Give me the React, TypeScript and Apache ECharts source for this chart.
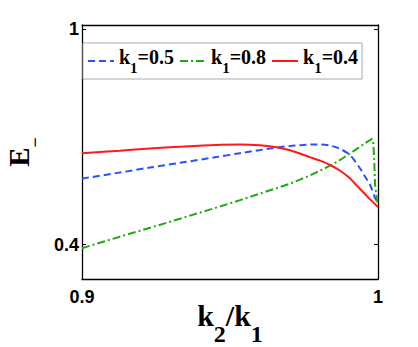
import React, { useEffect, useRef } from "react";
import * as echarts from "echarts";

// k1 = 0.5 (blue dashed)
const blueX = [0.9, 0.9128, 0.923, 0.9331, 0.9453, 0.9534, 0.9652, 0.9703, 0.9736, 0.977, 0.9804, 0.9838, 0.9872, 0.9905, 0.9939, 0.9956, 0.9973, 0.999, 1.0];
const blueY = [0.584, 0.601, 0.615, 0.628, 0.644, 0.655, 0.67, 0.675, 0.677, 0.679, 0.679, 0.676, 0.667, 0.65, 0.613, 0.59, 0.567, 0.53, 0.515];
// k1 = 0.8 (green dash-dot)
const greenX = [0.9, 0.9128, 0.923, 0.9331, 0.9453, 0.9534, 0.9652, 0.9703, 0.9736, 0.977, 0.9804, 0.9838, 0.9872, 0.9905, 0.9939, 0.9962, 0.998, 0.9984, 0.9987, 0.999, 0.9996, 1.0];
const greenY = [0.39, 0.422, 0.447, 0.472, 0.503, 0.524, 0.556, 0.57, 0.581, 0.593, 0.606, 0.62, 0.636, 0.654, 0.673, 0.686, 0.695, 0.687, 0.64, 0.567, 0.53, 0.51];
// k1 = 0.4 (red solid)
const redX = [0.9, 0.9128, 0.923, 0.9331, 0.9453, 0.9534, 0.96, 0.9652, 0.9703, 0.9736, 0.977, 0.9804, 0.9838, 0.9872, 0.9905, 0.9928, 0.9956, 0.9973, 1.0];
const redY = [0.655, 0.662, 0.668, 0.673, 0.678, 0.679, 0.677, 0.672, 0.663, 0.654, 0.644, 0.634, 0.622, 0.606, 0.585, 0.565, 0.541, 0.526, 0.505];

const legendValues = ["0.5", "0.8", "0.4"];
const seriesNames = ["k1=0.5", "k1=0.8", "k1=0.4"];
const xTicks = [0.9, 1];
const yTicks = [0.4, 1];

const serif = "'Liberation Serif', 'Times New Roman', serif";
const sans = "'Liberation Sans', Arial, sans-serif";

export default function App() {
  const ref = useRef<HTMLDivElement>(null);
  useEffect(() => {
    document.body.style.margin = "0";
    const chart = echarts.init(ref.current!, null, { renderer: "svg" });
    const pair = (xs: number[], ys: number[]) => xs.map((x, i) => [x, ys[i]]);
    const axisLine = { show: true, lineStyle: { color: "#000", width: 1.3 } };
    const tickStyle = (vals: number[]) => ({ show: true, inside: true, length: 4, customValues: vals, lineStyle: { color: "#000", width: 1 } });
    const labelStyle = { fontFamily: sans, fontWeight: "bold", fontSize: 18, color: "#000" };
    chart.setOption({
      animation: false,
      backgroundColor: "#fff",
      grid: { left: 82, right: 40, top: 25, bottom: 68, containLabel: false, outerBoundsMode: "none" },
      legend: {
        data: seriesNames,
        left: 83,
        top: 43,
        orient: "horizontal",
        itemWidth: 26,
        itemHeight: 12,
        itemGap: 5,
        padding: [4, 4],
        borderColor: "#aaa",
        borderWidth: 1,
        backgroundColor: "#fff",
        itemStyle: { opacity: 0 },
        formatter: (name: string) => {
          const i = seriesNames.indexOf(name);
          return `{k|k}{s|1}{k|=${legendValues[i]}}`;
        },
        textStyle: {
          rich: {
            k: { fontFamily: serif, fontWeight: "bold", fontSize: 20, color: "#000", verticalAlign: "top" },
            s: { fontFamily: serif, fontWeight: "bold", fontSize: 15, color: "#000", verticalAlign: "top", padding: [13, 0, 0, 0] },
          },
        },
      },
      xAxis: [
        {
          type: "value", min: 0.9, max: 1, position: "bottom",
          axisLine, axisTick: tickStyle(xTicks),
          axisLabel: { ...labelStyle, customValues: xTicks, margin: 9 },
          splitLine: { show: false },
          name: "{k|k}{s|2}{k|/k}{s|1}",
          nameLocation: "middle",
          nameGap: 21,
          nameMoveOverlap: false,
          nameTextStyle: {
            rich: {
              k: { fontFamily: serif, fontWeight: "bold", fontSize: 30, color: "#000", verticalAlign: "top" },
              s: { fontFamily: serif, fontWeight: "bold", fontSize: 24, color: "#000", verticalAlign: "top", padding: [22, 0, 0, 0] },
            },
          },
        },
        {
          type: "value", min: 0.9, max: 1, position: "top",
          axisLine, axisTick: tickStyle(xTicks), axisLabel: { show: false }, splitLine: { show: false },
        },
      ],
      yAxis: [
        {
          type: "value", min: 0.304, max: 1.0125, position: "left",
          axisLine, axisTick: tickStyle(yTicks),
          axisLabel: { ...labelStyle, customValues: yTicks, margin: 3 },
          splitLine: { show: false },
          name: "{e|E}{s|−}",
          nameLocation: "middle",
          nameRotate: 90,
          nameGap: 38,
          nameMoveOverlap: false,
          nameTextStyle: {
            rich: {
              e: { fontFamily: serif, fontWeight: "bold", fontSize: 29, color: "#000", verticalAlign: "top" },
              s: { fontFamily: serif, fontWeight: "bold", fontSize: 18, color: "#000", verticalAlign: "top", padding: [22, 0, 0, 0] },
            },
          },
        },
        {
          type: "value", min: 0.304, max: 1.0125, position: "right",
          axisLine, axisTick: tickStyle(yTicks), axisLabel: { show: false }, splitLine: { show: false },
        },
      ],
      series: [
        {
          name: seriesNames[0], type: "line", data: pair(blueX, blueY), symbol: "none", smooth: 0.3,
          lineStyle: { color: "#2d50ff", width: 2, type: [7, 4] }, itemStyle: { color: "#2d50ff" },
        },
        {
          name: seriesNames[1], type: "line", data: pair(greenX, greenY), symbol: "none", smooth: false,
          lineStyle: { color: "#22aa11", width: 2, type: [8, 3, 2, 3] }, itemStyle: { color: "#22aa11" },
        },
        {
          name: seriesNames[2], type: "line", data: pair(redX, redY), symbol: "none", smooth: 0.3,
          lineStyle: { color: "#ff1a1a", width: 2, type: "solid" }, itemStyle: { color: "#ff1a1a" },
        },
      ],
    });
    return () => chart.dispose();
  }, []);
  return <div ref={ref} style={{ width: 418, height: 347 }} />;
}
